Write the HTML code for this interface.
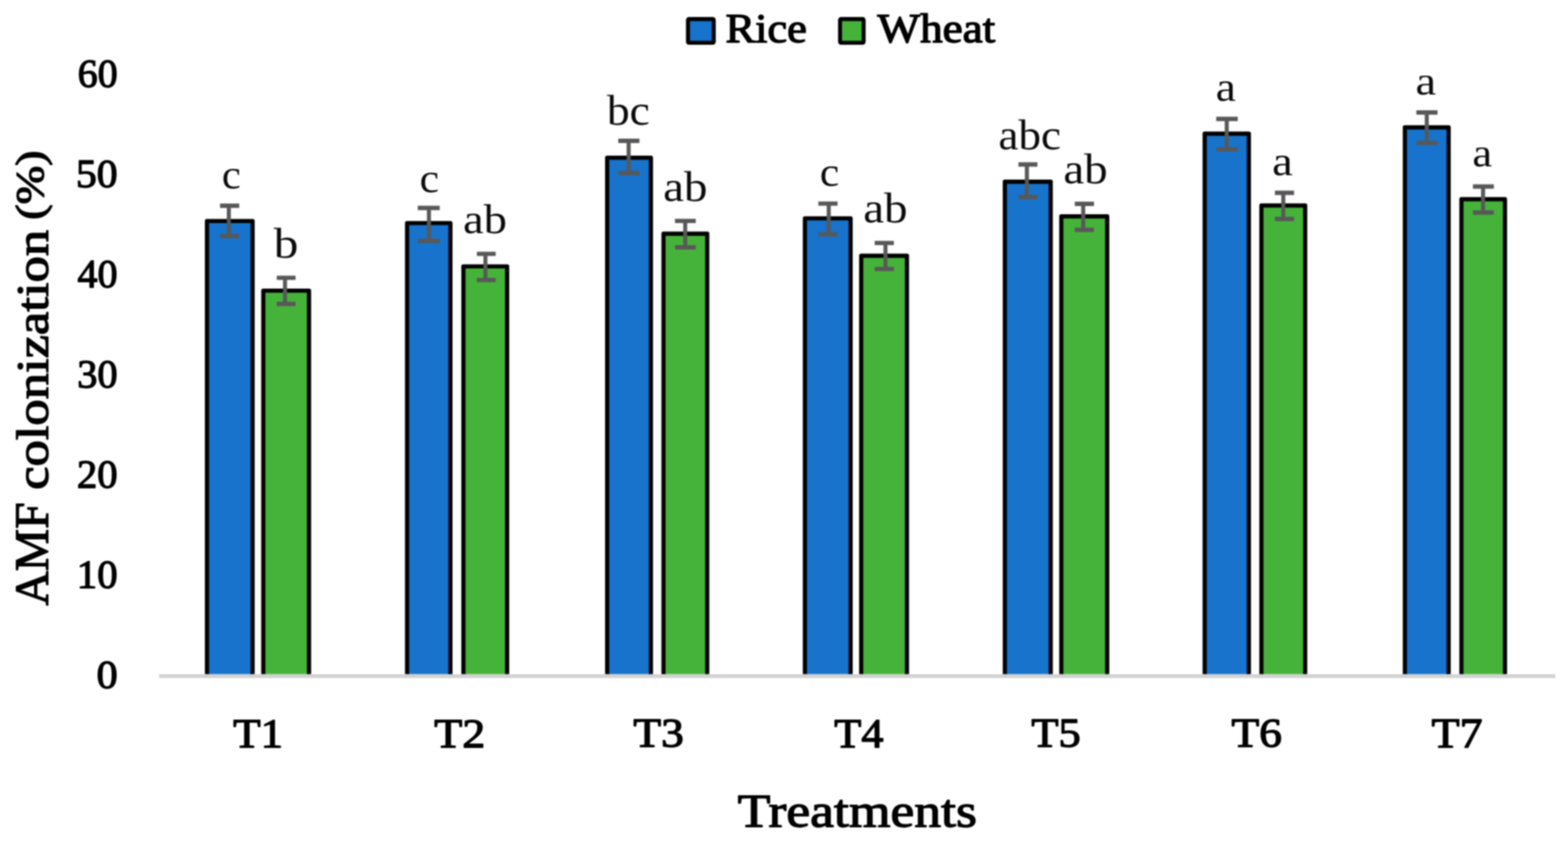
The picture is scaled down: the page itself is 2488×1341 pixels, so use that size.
<!DOCTYPE html>
<html lang="en"><head><meta charset="utf-8"><title>AMF colonization (%) by treatment</title>
<style>
html,body{margin:0;padding:0;background:#fff;}
body{width:2488px;height:1341px;overflow:hidden;}
svg{display:block;filter:blur(0.8px);}
text{font-family:"Liberation Serif","DejaVu Serif",serif;}
.b{font-weight:normal;fill:#000;stroke:#000;stroke-width:1.90px;stroke-linejoin:round;}
.r{font-weight:normal;fill:#0a0a0a;}
</style></head><body>
<svg width="2488" height="1341" viewBox="0 0 2488 1341">
<rect x="0" y="0" width="2488" height="1341" fill="#ffffff"/>
<line x1="252.5" y1="1072.9" x2="2468.0" y2="1072.9" stroke="#D2D2D2" stroke-width="6.0"/>
<g stroke="#000" stroke-width="6.6" stroke-linejoin="round">
<path d="M328.40 1069.70 V350.70 H400.80 V1069.70" fill="#1773CB"/>
<path d="M417.80 1069.70 V461.30 H490.35 V1069.70" fill="#45B339"/>
<path d="M645.90 1069.70 V354.00 H714.70 V1069.70" fill="#1773CB"/>
<path d="M735.30 1069.70 V422.80 H804.70 V1069.70" fill="#45B339"/>
<path d="M963.40 1069.70 V250.30 H1032.85 V1069.70" fill="#1773CB"/>
<path d="M1052.80 1069.70 V370.90 H1122.20 V1069.70" fill="#45B339"/>
<path d="M1277.15 1069.70 V346.50 H1349.70 V1069.70" fill="#1773CB"/>
<path d="M1366.50 1069.70 V405.90 H1439.10 V1069.70" fill="#45B339"/>
<path d="M1594.40 1069.70 V288.40 H1667.20 V1069.70" fill="#1773CB"/>
<path d="M1684.00 1069.70 V343.40 H1756.85 V1069.70" fill="#45B339"/>
<path d="M1911.50 1069.70 V212.15 H1981.60 V1069.70" fill="#1773CB"/>
<path d="M2001.50 1069.70 V326.15 H2071.00 V1069.70" fill="#45B339"/>
<path d="M2229.15 1069.70 V202.15 H2298.60 V1069.70" fill="#1773CB"/>
<path d="M2318.90 1069.70 V316.15 H2388.00 V1069.70" fill="#45B339"/>
</g>
<g fill="none" stroke="#585858" stroke-width="6.8">
<path d="M349.15 326.50 H379.60 M349.15 374.70 H379.60" />
<path d="M363.10 326.50 V374.70" stroke-width="6.4"/>
<path d="M439.15 440.90 H469.00 M439.15 482.25 H469.00" />
<path d="M452.25 440.90 V482.25" stroke-width="6.4"/>
<path d="M662.90 330.00 H697.70 M662.90 382.25 H697.70" />
<path d="M680.60 330.00 V382.25" stroke-width="6.4"/>
<path d="M756.65 402.90 H786.50 M756.65 444.40 H786.50" />
<path d="M770.25 402.90 V444.40" stroke-width="6.4"/>
<path d="M981.00 223.50 H1014.60 M981.00 274.75 H1014.60" />
<path d="M997.50 223.50 V274.75" stroke-width="6.4"/>
<path d="M1071.00 350.60 H1104.00 M1071.00 392.50 H1104.00" />
<path d="M1087.25 350.60 V392.50" stroke-width="6.4"/>
<path d="M1298.50 323.10 H1329.00 M1298.50 371.90 H1329.00" />
<path d="M1315.00 323.10 V371.90" stroke-width="6.4"/>
<path d="M1387.90 385.60 H1418.35 M1387.90 426.90 H1418.35" />
<path d="M1405.00 385.60 V426.90" stroke-width="6.4"/>
<path d="M1616.00 261.00 H1646.10 M1616.00 312.75 H1646.10" />
<path d="M1629.40 261.00 V312.75" stroke-width="6.4"/>
<path d="M1705.40 323.50 H1735.85 M1705.40 364.75 H1735.85" />
<path d="M1718.75 323.50 V364.75" stroke-width="6.4"/>
<path d="M1929.80 188.75 H1964.00 M1929.80 236.90 H1964.00" />
<path d="M1946.50 188.75 V236.90" stroke-width="6.4"/>
<path d="M2022.90 306.00 H2053.35 M2022.90 347.50 H2053.35" />
<path d="M2036.25 306.00 V347.50" stroke-width="6.4"/>
<path d="M2247.40 178.50 H2281.00 M2247.40 226.90 H2281.00" />
<path d="M2263.90 178.50 V226.90" stroke-width="6.4"/>
<path d="M2337.15 296.00 H2370.35 M2337.15 337.25 H2370.35" />
<path d="M2353.25 296.00 V337.25" stroke-width="6.4"/>
</g>
<g>
<text class="r" transform="translate(352.09 298.69) scale(1.0338 1)" font-size="65.52">c</text>
<text class="r" transform="translate(434.15 408.92) scale(1.1463 1)" font-size="68.37">b</text>
<text class="r" transform="translate(665.72 305.20) scale(1.0759 1)" font-size="64.69">c</text>
<text class="r" transform="translate(734.72 369.54) scale(1.1116 1)" font-size="66.38">ab</text>
<text class="r" transform="translate(962.90 197.68) scale(1.0848 1)" font-size="66.60">bc</text>
<text class="r" transform="translate(1052.19 318.93) scale(1.1102 1)" font-size="67.09">ab</text>
<text class="r" transform="translate(1300.72 295.19) scale(1.0623 1)" font-size="65.52">c</text>
<text class="r" transform="translate(1369.69 353.32) scale(1.0985 1)" font-size="67.80">ab</text>
<text class="r" transform="translate(1584.14 236.68) scale(1.0614 1)" font-size="67.45">abc</text>
<text class="r" transform="translate(1687.19 291.17) scale(1.1008 1)" font-size="67.66">ab</text>
<text class="r" transform="translate(1929.12 160.20) scale(1.1173 1)" font-size="64.69">a</text>
<text class="r" transform="translate(2018.41 277.70) scale(1.1428 1)" font-size="64.69">a</text>
<text class="r" transform="translate(2246.06 149.96) scale(1.1521 1)" font-size="64.17">a</text>
<text class="r" transform="translate(2336.17 263.96) scale(1.1027 1)" font-size="64.17">a</text>
</g>
<g>
<text class="b" transform="translate(123.21 138.29) scale(0.9972 1)" font-size="63.56">60</text>
<text class="b" transform="translate(120.52 297.16) scale(1.0406 1)" font-size="63.56">50</text>
<text class="b" transform="translate(123.08 456.03) scale(0.9993 1)" font-size="63.56">40</text>
<text class="b" transform="translate(122.47 614.90) scale(1.0091 1)" font-size="63.56">30</text>
<text class="b" transform="translate(121.96 773.77) scale(1.0174 1)" font-size="63.56">20</text>
<text class="b" transform="translate(121.86 932.64) scale(1.0189 1)" font-size="63.56">10</text>
<text class="b" transform="translate(153.22 1091.51) scale(1.0527 1)" font-size="63.56">0</text>
</g>
<g>
<text class="b" transform="translate(370.00 1185.65) scale(1.0763 1)" font-size="66.21">T1</text>
<text class="b" transform="translate(688.89 1185.65) scale(1.1018 1)" font-size="66.21">T2</text>
<text class="b" transform="translate(1005.11 1185.00) scale(1.1025 1)" font-size="65.22">T3</text>
<text class="b" transform="translate(1323.70 1185.65) scale(1.0619 1)" font-size="66.21">T4</text>
<text class="b" transform="translate(1636.41 1184.99) scale(1.0733 1)" font-size="65.71">T5</text>
<text class="b" transform="translate(1954.01 1185.00) scale(1.1051 1)" font-size="65.22">T6</text>
<text class="b" transform="translate(2271.48 1185.65) scale(1.0920 1)" font-size="66.72">T7</text>
</g>
<text class="b" transform="translate(1170.60 1312.11) scale(1.1541 1)" font-size="73.68">Treatments</text>
<g>
<text class="b" transform="translate(76.35 961.02) rotate(-90) scale(0.9814 1)" font-size="76.97">AMF</text>
<text class="b" transform="translate(76.23 777.33) rotate(-90) scale(1.1628 1)" font-size="71.77">colonization</text>
<text class="b" transform="translate(69.39 348.80) rotate(-90) scale(1.1647 1)" font-size="63.08">(%)</text>
</g>
<rect x="1091.65" y="30.25" width="40.90" height="37.60" rx="1.5" fill="#1773CB" stroke="#000" stroke-width="6.3" stroke-linejoin="round"/>
<text class="b" transform="translate(1151.22 66.75) scale(1.0903 1)" font-size="64.58">Rice</text>
<rect x="1332.95" y="30.25" width="37.40" height="37.60" rx="1.5" fill="#45B339" stroke="#000" stroke-width="6.3" stroke-linejoin="round"/>
<text class="b" transform="translate(1392.35 66.75) scale(1.1089 1)" font-size="64.58">Wheat</text>
</svg>
</body></html>
